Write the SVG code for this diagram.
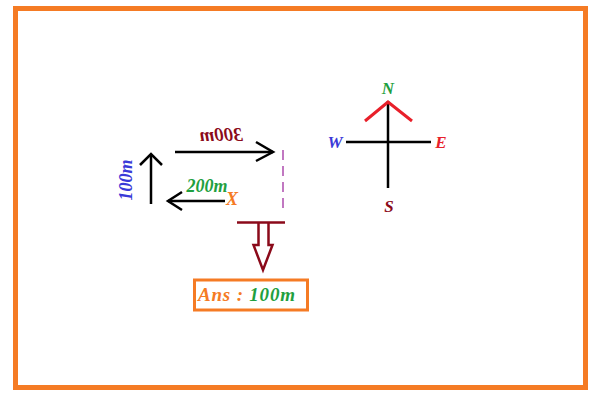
<svg xmlns="http://www.w3.org/2000/svg" width="600" height="400" viewBox="0 0 600 400">
<style>
.t{font-family:"Liberation Serif","Times New Roman",serif;font-weight:bold;font-style:italic}
.blk{stroke:#000;stroke-width:2.5;fill:none;stroke-linecap:butt}
.mar{stroke:#8B0A1A;stroke-width:2.5;fill:none}
</style>
<rect x="0" y="0" width="600" height="400" fill="#fff"/>
<rect x="15.5" y="8.5" width="570" height="379" fill="none" stroke="#F57B24" stroke-width="5"/>
<g id="connectors">
<g id="east-300">
<line class="blk" x1="175" y1="152" x2="273" y2="152"/>
<polyline class="blk" points="256,142 273,152 256,161"/>
</g>
<g id="north-100">
<line class="blk" x1="151" y1="204" x2="151" y2="154"/>
<polyline class="blk" points="140,165 151,154 162,165"/>
</g>
<g id="west-200">
<line class="blk" x1="168" y1="201" x2="225" y2="201"/>
<polyline class="blk" points="182,192 168,201 182,210"/>
</g>
<line id="dashed" x1="283" y1="150" x2="283" y2="209" stroke="#A030A0" stroke-width="1.3" stroke-dasharray="10 6"/>
</g>
<g id="labels">
<text class="t" transform="translate(221,141) scale(-1,1)" text-anchor="middle" font-size="19" fill="#8B0A1A">300m</text>
<text class="t" transform="translate(132,180) rotate(-90)" text-anchor="middle" font-size="18" fill="#3A3AD8">100m</text>
<text class="t" x="207" y="192" text-anchor="middle" font-size="18" fill="#1FA040">200m</text>
<text class="t" x="232" y="205" text-anchor="middle" font-size="18" fill="#F57B24">X</text>
</g>
<g id="answer-arrow">
<line class="mar" x1="237" y1="222.5" x2="285" y2="222.5"/>
<path class="mar" d="M258.5,223 V245 H253.5 L263,270 L272.5,245 H268.5 V223"/>
</g>
<g id="answer">
<rect x="194.5" y="280" width="113" height="30" fill="#fff" stroke="#F57B24" stroke-width="3"/>
<text class="t" x="198" y="301" font-size="19" fill="#F57B24" textLength="97">Ans : <tspan fill="#1FA040">100m</tspan></text>
</g>
<g id="compass">
<line class="blk" x1="388" y1="101" x2="388" y2="188"/>
<line class="blk" x1="346" y1="142" x2="431" y2="142"/>
<polyline points="365,121 388,102 412,121" fill="none" stroke="#E8202A" stroke-width="3"/>
<text class="t" x="388" y="94" text-anchor="middle" font-size="17" fill="#1FA040">N</text>
<text class="t" x="335" y="148" text-anchor="middle" font-size="17" fill="#3A3AD8">W</text>
<text class="t" x="441" y="148" text-anchor="middle" font-size="17" fill="#E8202A">E</text>
<text class="t" x="389" y="212" text-anchor="middle" font-size="17" fill="#8B0A1A">S</text>
</g>
</svg>
